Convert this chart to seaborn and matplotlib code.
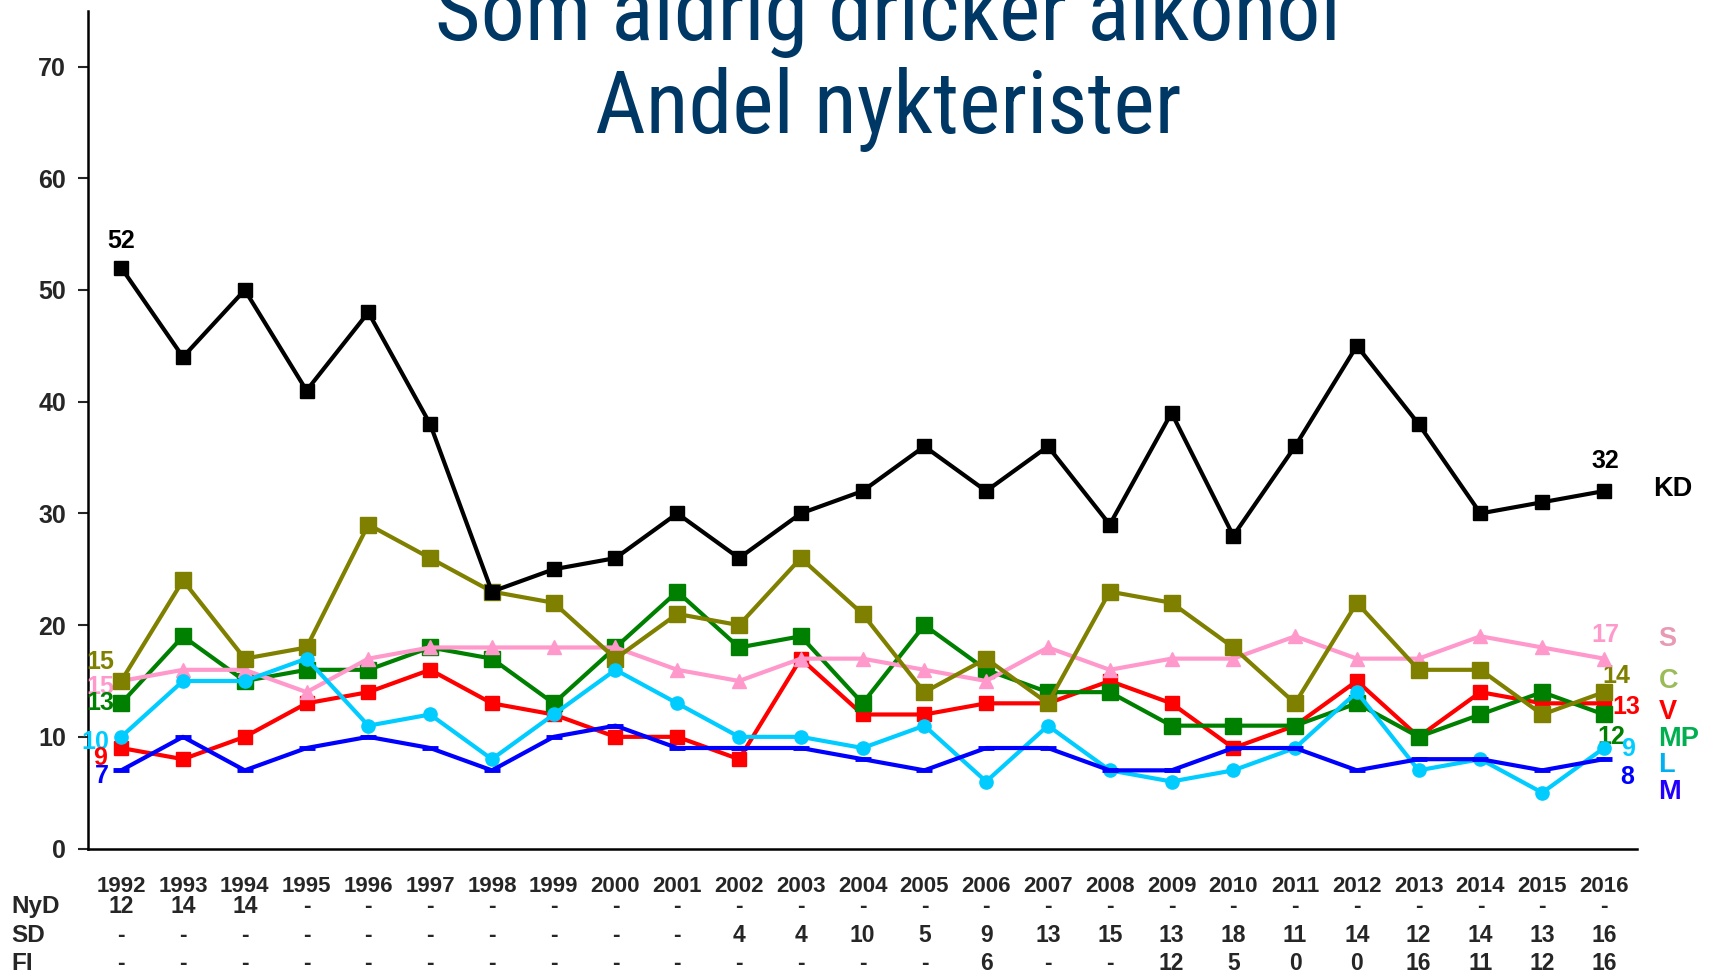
import numpy as np
import pandas as pd
import matplotlib
matplotlib.use('Agg')
import matplotlib.pyplot as plt
import matplotlib.transforms as mtransforms
import seaborn as sns

# data
years = list(range(1992, 2017))
kd = [52, 44, 50, 41, 48, 38, 23, 25, 26, 30, 26, 30, 32, 36, 32, 36, 29, 39, 28, 36, 45, 38, 30, 31, 32]
c  = [15, 24, 17, 18, 29, 26, 23, 22, 17, 21, 20, 26, 21, 14, 17, 13, 23, 22, 18, 13, 22, 16, 16, 12, 14]
mp = [13, 19, 15, 16, 16, 18, 17, 13, 18, 23, 18, 19, 13, 20, 16, 14, 14, 11, 11, 11, 13, 10, 12, 14, 12]
s  = [15, 16, 16, 14, 17, 18, 18, 18, 18, 16, 15, 17, 17, 16, 15, 18, 16, 17, 17, 19, 17, 17, 19, 18, 17]
v  = [9, 8, 10, 13, 14, 16, 13, 12, 10, 10, 8, 17, 12, 12, 13, 13, 15, 13, 9, 11, 15, 10, 14, 13, 13]
l  = [10, 15, 15, 17, 11, 12, 8, 12, 16, 13, 10, 10, 9, 11, 6, 11, 7, 6, 7, 9, 14, 7, 8, 5, 9]
m  = [7, 10, 7, 9, 10, 9, 7, 10, 11, 9, 9, 9, 8, 7, 9, 9, 7, 7, 9, 9, 7, 8, 8, 7, 8]

nyd = ['12', '14', '14', '-', '-', '-', '-', '-', '-', '-', '-', '-', '-', '-', '-', '-', '-', '-', '-', '-', '-', '-', '-', '-', '-']
sd  = ['-', '-', '-', '-', '-', '-', '-', '-', '-', '-', '4', '4', '10', '5', '9', '13', '15', '13', '18', '11', '14', '12', '14', '13', '16']
fi  = ['-', '-', '-', '-', '-', '-', '-', '-', '-', '-', '-', '-', '-', '-', '6', '-', '-', '12', '5', '0', '0', '16', '11', '12', '16']

title1 = 'Som aldrig dricker alkohol'
title2 = 'Andel nykterister'

sns.set_style('white')
plt.rcParams['font.family'] = ['Liberation Sans', 'DejaVu Sans']

fig = plt.figure(figsize=(17.11, 9.74), dpi=100)
ax = fig.add_axes([0.0517, 0.1288, 0.9049, 0.8602])

# (name, values, line colour, marker, markersize, label colour) in drawing order
series = [
    ('V', v, '#FF0000', 's', 10, '#FF0000'),
    ('MP', mp, '#008000', 's', 11, '#00B050'),
    ('S', s, '#FF99CC', '^', 10, '#E89AB4'),
    ('C', c, '#808000', 's', 11, '#9BBB59'),
    ('L', l, '#00CCFF', 'o', 9.5, '#00B0F0'),
    ('M', m, '#0000FF', '_', 11, '#2200FF'),
    ('KD', kd, '#000000', 's', 10.5, '#000000'),
]

for i, (name, vals, col, mk, ms, lab_col) in enumerate(series):
    mew = 3.5 if mk == '_' else 1
    sns.lineplot(x=years, y=vals, ax=ax, color=col, marker=mk, markersize=ms,
                 markeredgecolor=col, markeredgewidth=mew, linewidth=3, zorder=3 + i)

ax.set_xlim(1991.47, 2016.53)
ax.set_ylim(0, 75)
ax.set_yticks(range(0, 71, 10))
ax.set_xticks(years)
ax.set_xticklabels([str(y) for y in years], fontsize=16, fontweight='bold')
for lab in ax.get_yticklabels():
    lab.set_fontsize(18)
    lab.set_fontweight('bold')
ax.tick_params(axis='y', length=7, width=1.5, direction='out', pad=9, left=True)
ax.tick_params(axis='x', length=0, pad=20)
sns.despine(ax=ax, top=True, right=True)
ax.spines['left'].set_linewidth(1.8)
ax.spines['bottom'].set_linewidth(1.8)
ax.spines['left'].set_color('black')
ax.spines['bottom'].set_color('black')
ax.set_xlabel('')
ax.set_ylabel('')

# value labels at the ends of the series
lab_kw = dict(textcoords='offset points', fontsize=18, fontweight='bold',
              ha='center', va='center', annotation_clip=False)
ax.annotate(str(kd[0]), (years[0], kd[0]), xytext=(0, 19), color='black', **lab_kw)
ax.annotate(str(kd[-1]), (years[-1], kd[-1]), xytext=(1, 22), color='black', **lab_kw)

ax.annotate(str(c[0]), (years[0], c[0]), xytext=(-15, 14), color='#808000', **lab_kw)
ax.annotate(str(s[0]), (years[0], s[0]), xytext=(-15, -4.5), color='#FF99CC', **lab_kw)
ax.annotate(str(mp[0]), (years[0], mp[0]), xytext=(-15, 0), color='#008000', **lab_kw)
ax.annotate(str(l[0]), (years[0], l[0]), xytext=(-19, -3.5), color='#00CCFF', **lab_kw)
ax.annotate(str(v[0]), (years[0], v[0]), xytext=(-15, -7.5), color='#FF0000', **lab_kw)
ax.annotate(str(m[0]), (years[0], m[0]), xytext=(-14, -4), color='#0000FF', **lab_kw)

ax.annotate(str(s[-1]), (years[-1], s[-1]), xytext=(1, 17), color='#FF99CC', **lab_kw)
ax.annotate(str(c[-1]), (years[-1], c[-1]), xytext=(9, 11.5), color='#808000', **lab_kw)
ax.annotate(str(v[-1]), (years[-1], v[-1]), xytext=(16, -2.5), color='#FF0000', **lab_kw)
ax.annotate(str(mp[-1]), (years[-1], mp[-1]), xytext=(5.5, -16.5), color='#008000', **lab_kw)
ax.annotate(str(l[-1]), (years[-1], l[-1]), xytext=(17, -1), color='#00CCFF', **lab_kw)
ax.annotate(str(m[-1]), (years[-1], m[-1]), xytext=(17, -13), color='#0000FF', **lab_kw)

# party names on the right
name_y = {'KD': 0.4983, 'S': 0.3437, 'C': 0.3012, 'V': 0.2688, 'MP': 0.2408, 'L': 0.2150, 'M': 0.1870}
for name, vals, col, mk, ms, lab_col in series:
    x0 = 0.966 if name == 'KD' else 0.9693
    fig.text(x0, name_y[name], name, color=lab_col, fontsize=19.5, fontweight='bold',
             ha='left', va='center')

# table rows under the years
trans = mtransforms.blended_transform_factory(ax.transData, fig.transFigure)
rows = [('NyD', nyd, 0.0693), ('SD', sd, 0.0392), ('FI', fi, 0.0103)]
for row_name, row_vals, yy in rows:
    fig.text(0.0064, yy, row_name, fontsize=17.5, fontweight='bold', ha='left', va='center')
    for yr, txt in zip(years, row_vals):
        ax.text(yr, yy, txt, transform=trans, fontsize=16.5, fontweight='bold',
                ha='center', va='center', clip_on=False)

# title (first line runs off the top); fit the second line to the reference width
title_font = ['Roboto Condensed', 'Noto Sans', 'DejaVu Sans']
t1 = fig.text(0.519, 0.9589, title1, family=title_font, fontstretch='condensed',
              fontsize=62, color='#003865', ha='center', va='baseline')
t2 = fig.text(0.519, 0.8634, title2, family=title_font, fontstretch='condensed',
              fontsize=62, color='#003865', ha='center', va='baseline')
renderer = fig.canvas.get_renderer()
w2 = t2.get_window_extent(renderer).width
size = min(64, 62 * 586 / w2)
size = max(size, 52)
t1.set_fontsize(size)
t2.set_fontsize(size)

fig.savefig('out.png', dpi=100)
